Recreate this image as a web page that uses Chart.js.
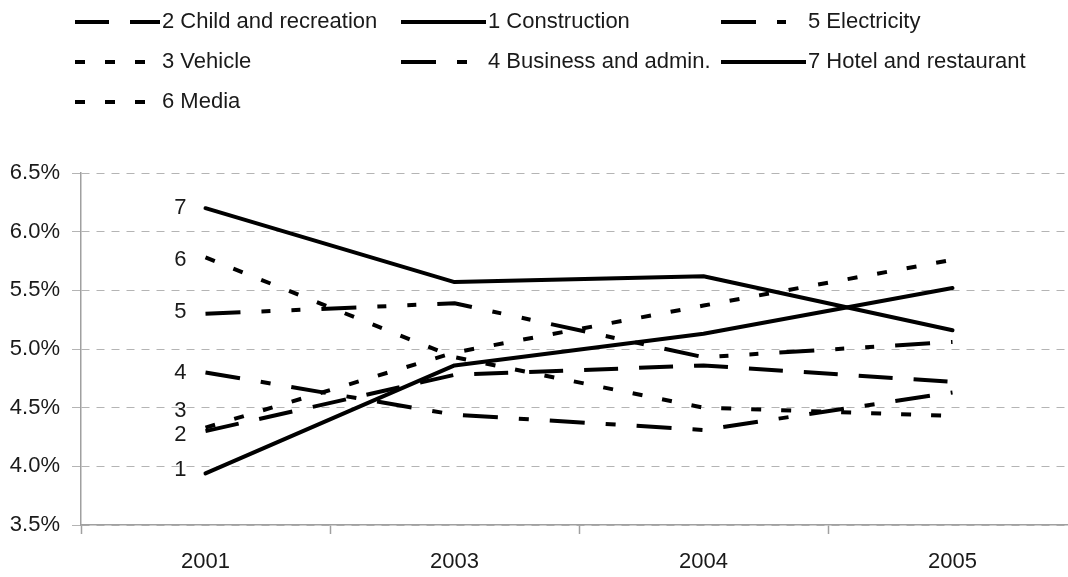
<!DOCTYPE html>
<html>
<head>
<meta charset="utf-8">
<script src="https://cdn.jsdelivr.net/npm/chart.js@4.4.1/dist/chart.umd.min.js"></script>
<style>
  html, body { margin: 0; padding: 0; background: #fff; overflow: hidden; }
  #wrap { position: relative; width: 1080px; height: 577px; }
</style>
</head>
<body>
<div id="wrap"><canvas id="lineChart"></canvas></div>
<script>
// values (percent)
const years = ['2001', '2003', '2004', '2005'];
const child = [4.30, 4.78, 4.86, 4.72];
const construction = [3.94, 4.86, 5.13, 5.52];
const electricity = [5.30, 5.39, 4.93, 5.06];
const vehicle = [4.33, 4.97, 5.37, 5.76];
const business = [4.80, 4.44, 4.31, 4.63];
const hotel = [6.20, 5.57, 5.62, 5.16];
const media = [5.78, 4.93, 4.50, 4.43];

const seriesNames = ['2 Child and recreation', '1 Construction', '5 Electricity',
  '3 Vehicle', '4 Business and admin.', '7 Hotel and restaurant', '6 Media'];
const seriesTags = ['2', '1', '5', '3', '4', '7', '6'];
const yTicks = [3.5, 4.0, 4.5, 5.0, 5.5, 6.0, 6.5];

const FONT = "'Liberation Sans', Arial, sans-serif";
const FSIZE = 22;
const TEXT = '#1a1a1a';

// dash styles
const LONG = [34, 21];
const SHORT = [10, 20];
const DASHDOT = [35, 21, 10, 21];
const DASHDOTDOT = [35, 21, 9, 21, 9, 21];

// small vertical nudges for the series tags so they don't collide
const tagNudge = [4, -3, -2, -17, 0, 0, 2];

function line(label, data, dash) {
  return {
    label, data,
    borderColor: '#000',
    backgroundColor: '#000',
    borderWidth: 4,
    borderDash: dash,
    borderCapStyle: dash.length ? 'butt' : 'round',
    borderJoinStyle: 'round',
    pointRadius: 0,
    tension: 0,
    fill: false
  };
}

const datasets = [
  line(seriesNames[0], child, LONG),
  line(seriesNames[1], construction, []),
  line(seriesNames[2], electricity, DASHDOTDOT),
  line(seriesNames[3], vehicle, SHORT),
  line(seriesNames[4], business, DASHDOT),
  line(seriesNames[5], hotel, []),
  line(seriesNames[6], media, SHORT)
];

// legend in three columns above the plot
const gridLegend = {
  id: 'gridLegend',
  afterDraw(chart) {
    const ctx = chart.ctx;
    const cols = [75, 401, 721];
    const rows = [22, 62, 102];
    ctx.save();
    chart.data.datasets.forEach((ds, i) => {
      const x = cols[i % 3];
      const y = rows[Math.floor(i / 3)];
      ctx.beginPath();
      ctx.lineWidth = 4;
      ctx.strokeStyle = '#000';
      ctx.lineCap = 'butt';
      ctx.setLineDash(ds.borderDash);
      ctx.moveTo(x, y);
      ctx.lineTo(x + 85, y);
      ctx.stroke();
      ctx.setLineDash([]);
      ctx.fillStyle = TEXT;
      ctx.font = FSIZE + 'px ' + FONT;
      ctx.textAlign = 'left';
      ctx.textBaseline = 'middle';
      ctx.fillText(ds.label, x + 87, y);
    });
    ctx.restore();
  }
};

// series number beside the first point of each line
const startTags = {
  id: 'startTags',
  afterDatasetsDraw(chart) {
    const ctx = chart.ctx;
    ctx.save();
    ctx.fillStyle = TEXT;
    ctx.font = FSIZE + 'px ' + FONT;
    ctx.textAlign = 'right';
    ctx.textBaseline = 'middle';
    chart.data.datasets.forEach((ds, i) => {
      const pt = chart.getDatasetMeta(i).data[0];
      ctx.fillText(seriesTags[i], pt.x - 19, pt.y + tagNudge[i]);
    });
    ctx.restore();
  }
};

new Chart(document.getElementById('lineChart'), {
  type: 'line',
  data: { labels: years, datasets },
  plugins: [gridLegend, startTags],
  options: {
    responsive: true,
    maintainAspectRatio: false,
    animation: false,
    layout: { padding: { top: 173, right: 3, bottom: 0, left: 0 } },
    plugins: {
      legend: { display: false },
      tooltip: { enabled: false }
    },
    scales: {
      x: {
        offset: true,
        afterFit(scale) { scale.height = 52; },
        grid: {
          offset: true,
          drawOnChartArea: false,
          drawTicks: true,
          tickLength: 9,
          tickColor: '#a0a0a0',
          tickWidth: 1.5
        },
        border: { color: '#a0a0a0', width: 1.5 },
        ticks: { color: TEXT, padding: 15, font: { family: FONT, size: FSIZE } }
      },
      y: {
        min: 3.5,
        max: 6.5,
        afterFit(scale) { scale.width = 81; },
        afterBuildTicks(scale) { scale.ticks = yTicks.map(v => ({ value: v })); },
        grid: {
          color: '#b4b4b4',
          lineWidth: 1,
          tickLength: 9,
          tickColor: '#b4b4b4'
        },
        border: { color: '#a0a0a0', width: 1.5, dash: [8, 7] },
        ticks: {
          color: TEXT,
          padding: 12,
          font: { family: FONT, size: FSIZE },
          callback: v => v.toFixed(1) + '%'
        }
      }
    }
  }
});
</script>
</body>
</html>
